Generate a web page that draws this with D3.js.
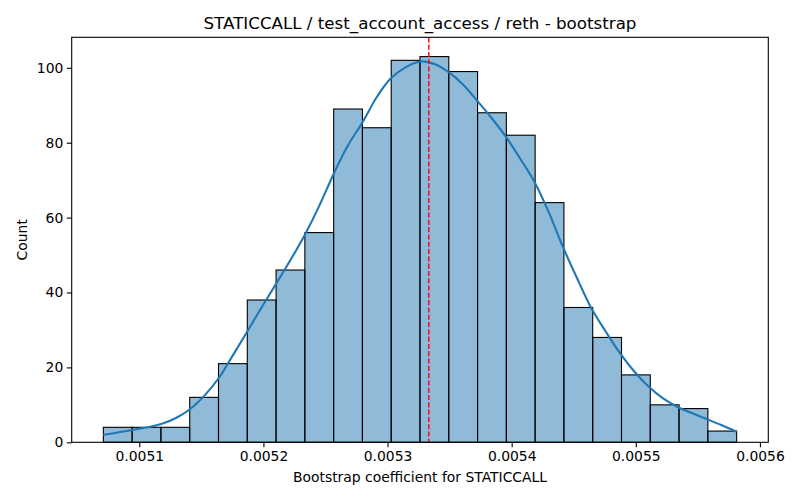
<!DOCTYPE html>
<html lang="en">

<head>
    <meta charset="utf-8">
    <title>STATICCALL bootstrap</title>
    <script src="https://cdn.jsdelivr.net/npm/d3@7"></script>
    <style>
        body { margin: 0; background: #ffffff; }
        text { font-family: "DejaVu Sans", sans-serif; fill: #000000; }
    </style>
</head>

<body>
    <script type="text/javascript">
        // histogram bins
        var binStart = 0.00507105;
        var binWidth = 0.00002319;
        var counts = [4, 4, 4, 12, 21, 38, 46, 56, 89, 84, 102, 103, 99, 88, 82, 64, 36, 28, 18, 10, 9, 3];

        // kde curve, [x, count] pairs
        var kdeX = [0.00507105, 0.00509437, 0.00511770, 0.00512952, 0.00514102, 0.00515285, 0.00516434,
            0.00517536, 0.00518686, 0.00520029, 0.00521018, 0.00522200, 0.00523351, 0.00524477, 0.00525699,
            0.00526761, 0.00527991, 0.00529174, 0.00530267, 0.00531586, 0.00532656, 0.00533782, 0.00534890,
            0.00536096, 0.00537222, 0.00538380, 0.00539530, 0.00540656, 0.00541862, 0.00543069, 0.00544138,
            0.00545240, 0.00546422, 0.00547572, 0.00548726, 0.00549876, 0.00551026, 0.00552168, 0.00553334,
            0.00554500, 0.00555706, 0.00556888];
        var kdeY = [2.0, 3.3, 4.9, 6.5, 8.9, 12.6, 17.3, 23.2, 29.5, 37.0, 42.3, 48.8, 55.5, 63.0, 72.0,
            79.0, 85.5, 92.4, 97.2, 100.4, 101.7, 101.0, 98.9, 95.5, 91.2, 86.6, 81.6, 75.9, 69.4, 60.8,
            52.1, 44.0, 35.8, 29.6, 23.8, 18.9, 14.9, 11.8, 9.5, 7.8, 6.2, 4.6];
        var kdeEnd = [0.00558123, 2.8];

        var meanValue = 0.00533323;

        var xTicks = [0.0051, 0.0052, 0.0053, 0.0054, 0.0055, 0.0056];
        var yTicks = [0, 20, 40, 60, 80, 100];

        var titleText = "STATICCALL / test_account_access / reth - bootstrap";
        var xLabel = "Bootstrap coefficient for STATICCALL";
        var yLabel = "Count";

        var width = 800;
        var height = 500;
        var margin = { left: 71.7, right: 31.7, top: 37.3, bottom: 57.7 };
        var plotW = width - margin.left - margin.right;
        var plotH = height - margin.top - margin.bottom;

        var bins = counts.map(function (c, i) {
            return { x0: binStart + i * binWidth, x1: binStart + (i + 1) * binWidth, count: c };
        });
        var kde = kdeX.map(function (x, i) { return [x, kdeY[i]]; });
        kde.push(kdeEnd);

        var xMin = bins[0].x0;
        var xMax = bins[bins.length - 1].x1;
        var pad = (xMax - xMin) * 0.05;
        var x = d3.scaleLinear()
            .domain([xMin - pad, xMax + pad])
            .range([0, plotW]);
        var y = d3.scaleLinear()
            .domain([0, d3.max(counts) * 1.05])
            .range([plotH, 0]);

        var svg = d3.select("body").append("svg")
            .attr("width", width)
            .attr("height", height);

        var g = svg.append("g")
            .attr("transform", "translate(" + margin.left + "," + margin.top + ")");

        // bars
        g.selectAll("rect.bar")
            .data(bins)
            .enter()
            .append("rect")
            .attr("class", "bar")
            .attr("x", function (d) { return x(d.x0); })
            .attr("y", function (d) { return y(d.count); })
            .attr("width", function (d) { return x(d.x1) - x(d.x0); })
            .attr("height", function (d) { return plotH - y(d.count); })
            .attr("fill", "#1f77b4")
            .attr("fill-opacity", 0.5)
            .attr("stroke", "#000000")
            .attr("stroke-width", 1.1);

        // kde
        var line = d3.line()
            .x(function (d) { return x(d[0]); })
            .y(function (d) { return y(d[1]); })
            .curve(d3.curveCatmullRom);

        g.append("path")
            .datum(kde)
            .attr("d", line)
            .attr("fill", "none")
            .attr("stroke", "#1f77b4")
            .attr("stroke-width", 2.1);

        // mean line
        g.append("line")
            .attr("x1", x(meanValue))
            .attr("x2", x(meanValue))
            .attr("y1", 0)
            .attr("y2", plotH)
            .attr("stroke", "red")
            .attr("stroke-width", 1.4)
            .attr("stroke-dasharray", "5.1,2.2");

        // axes
        var xAxis = g.append("g")
            .attr("transform", "translate(0," + plotH + ")")
            .call(d3.axisBottom(x).tickValues(xTicks).tickSize(4.9).tickPadding(3.5)
                .tickFormat(d3.format(".4f")));
        var yAxis = g.append("g")
            .call(d3.axisLeft(y).tickValues(yTicks).tickSize(4.9).tickPadding(3.5)
                .tickFormat(d3.format("d")));

        [xAxis, yAxis].forEach(function (a) {
            a.select(".domain").remove();
            a.selectAll(".tick line").attr("stroke", "#000").attr("stroke-width", 1.1);
            a.selectAll(".tick text").style("font-size", "13.9px").attr("fill", "#000");
        });
        xAxis.selectAll(".tick text").attr("dy", "0.72em");

        // frame
        g.append("rect")
            .attr("x", 0)
            .attr("y", 0)
            .attr("width", plotW)
            .attr("height", plotH)
            .attr("fill", "none")
            .attr("stroke", "#000")
            .attr("stroke-width", 1.1);

        // texts
        svg.append("text")
            .attr("x", margin.left + plotW / 2)
            .attr("y", 29)
            .attr("text-anchor", "middle")
            .style("font-size", "16.7px")
            .text(titleText);

        svg.append("text")
            .attr("x", margin.left + plotW / 2)
            .attr("y", 482)
            .attr("text-anchor", "middle")
            .style("font-size", "13.9px")
            .text(xLabel);

        svg.append("text")
            .attr("transform", "translate(26.5," + (margin.top + plotH / 2) + ")rotate(-90)")
            .attr("text-anchor", "middle")
            .style("font-size", "13.9px")
            .text(yLabel);
    </script>
</body>

</html>
